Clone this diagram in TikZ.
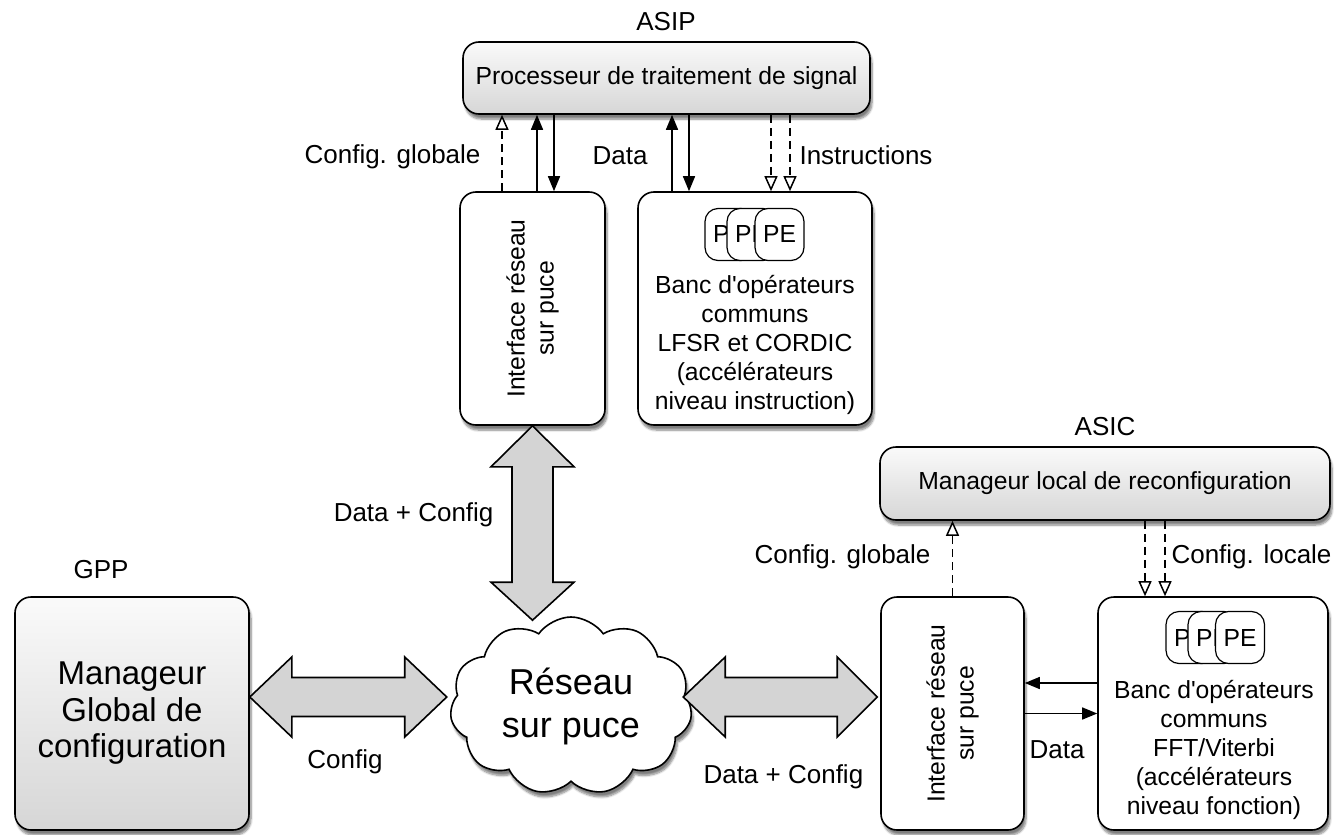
\documentclass[tikz,border=0pt]{standalone}
\usepackage{fontspec}
\setmainfont{Liberation Sans}[Ligatures=TeXOff]
\usetikzlibrary{shapes.symbols,arrows.meta,shadows.blur,calc}
\newcommand\hdblarrow[4]{% from, to, headL1, headL2
  \draw[darrow] (#1) -- ++(#3,-40) -- ++(0,20.5) -- ($(#2)+(-#4,-19.5)$) -- ++(0,-20.5) -- (#2)
    -- ++(-#4,40) -- ++(0,-20.5) -- ($(#1)+(#3,19.5)$) -- ++(0,20.5) -- cycle;}
\begin{document}
\begin{tikzpicture}[x=1pt,y=-1pt,
  every node/.style={font=\fontsize{24.7}{29}\selectfont},
  lbl/.style={font=\fontsize{26}{31}\selectfont},
  box/.style={draw, line width=1.6pt, rounded corners=16pt, fill=white, inner sep=0pt,
    blur shadow={shadow xshift=2pt, shadow yshift=-5pt, shadow blur steps=7, shadow opacity=50}},
  gbox/.style={box, top color=black!2, bottom color=black!16},
  pe/.style={draw, line width=1.2pt, rounded corners=13pt, fill=white, minimum width=49pt, minimum height=52pt, inner sep=0pt},
  sarrow/.style={line width=1.5pt, -{Triangle[length=15pt,width=12pt]}},
  oarrow/.style={line width=1.5pt, dash pattern=on 8pt off 5pt, -{Triangle[open,length=15pt,width=13pt,fill=white,line width=1.5pt]}},
  darrow/.style={draw, line width=1.6pt, fill=black!17, line join=miter},
]
\useasboundingbox (0,0) rectangle (1336,835);

% ---- ASIP ----
\node[lbl] (asip) at (666,22) {ASIP};
\node[gbox, minimum width=407pt, minimum height=72pt] (proc) at (666.5,78) {Processeur de traitement de signal};
\node[box, minimum width=145pt, minimum height=233pt] (ifaceT) at (532.5,308.5) {};
\node[rotate=90, align=center] (ifaceTtxt) at (ifaceT.center) {Interface réseau\\sur puce};
\node[box, minimum width=234pt, minimum height=233pt] (bancT) at (755,308.5) {};
\node[pe] (peT1) at (729.5,234.5) {PE};
\node[pe] (peT2) at (751.5,234.5) {PE};
\node[pe] (peT3) at (779.5,234.5) {PE};
\node[align=center] (bancTtxt) at (755,345) {Banc d'opérateurs\\communs\\LFSR et CORDIC\\(accélérateurs\\niveau instruction)};

\coordinate (t1) at ($(ifaceT.north)+(-30.5,0)$);
\coordinate (t2) at ($(ifaceT.north)+(4.5,0)$);
\coordinate (t3) at ($(ifaceT.north)+(21.5,0)$);
\coordinate (t4) at ($(bancT.north)+(-83,0)$);
\coordinate (t5) at ($(bancT.north)+(-66,0)$);
\coordinate (t6) at ($(bancT.north)+(16,0)$);
\coordinate (t7) at ($(bancT.north)+(35,0)$);
\draw[oarrow] (t1) -- (t1 |- proc.south);
\draw[sarrow] (t2) -- (t2 |- proc.south);
\draw[sarrow] (t3 |- proc.south) -- (t3);
\draw[sarrow] (t4) -- (t4 |- proc.south);
\draw[sarrow] (t5 |- proc.south) -- (t5);
\draw[oarrow] (t6 |- proc.south) -- (t6);
\draw[oarrow] (t7 |- proc.south) -- (t7);
\node[lbl, anchor=east] (lcg1) at (484,157) {Config. globale};
\node[lbl] (ldata1) at (620,156) {Data};
\node[lbl, anchor=west] (linstr) at (796,155) {Instructions};

% ---- Cloud ----
\node[cloud, draw, line width=1.6pt, fill=white, cloud puffs=11, cloud puff arc=110, aspect=1.5,
  minimum width=242pt, minimum height=178pt, inner sep=0pt, align=center,
  font=\fontsize{36}{43}\selectfont,
  blur shadow={shadow xshift=2pt, shadow yshift=-5pt, shadow blur steps=7, shadow opacity=50}] (cloud) at (571,706) {Réseau\\sur puce};

% vertical double arrow
\coordinate (v1) at (ifaceT.south);
\coordinate (v2) at ($(ifaceT.south |- cloud.north)+(0,4)$);
\draw[darrow] (v1) -- ++(41.5,41) -- ++(-21,0) -- ($(v2)+(20.5,-38)$) -- ++(21,0) -- (v2)
  -- ++(-41.5,-38) -- ++(21,0) -- ($(v1)+(-20.5,41)$) -- ++(-21,0) -- cycle;
\node[lbl, anchor=east] (ldc1) at (497,515) {Data + Config};

% ---- GPP ----
\node[lbl] (gpp) at (101,570) {GPP};
\node[gbox, minimum width=234pt, minimum height=233pt, align=center, font=\fontsize{33}{36.5}\selectfont] (mgrG) at (132,713.5) {Manageur\\Global de\\configuration};
\coordinate (h1) at ($(mgrG.east)+(0,-16.5)$);
\coordinate (h2) at ($(h1 -| cloud.west)+(-4,0)$);
\hdblarrow{h1}{h2}{42}{42}
\node[lbl] (lcfg) at (345,762) {Config};

% ---- ASIC ----
\node[lbl] (asic) at (1105,427) {ASIC};
\node[gbox, minimum width=450pt, minimum height=73pt] (mgrL) at (1105,483.5) {Manageur local de reconfiguration};
\node[box, minimum width=143pt, minimum height=233pt] (ifaceB) at (952.5,713.5) {};
\node[rotate=90, align=center] (ifaceBtxt) at (ifaceB.center) {Interface réseau\\sur puce};
\node[box, minimum width=230pt, minimum height=233pt] (bancB) at (1213,713.5) {};
\node[pe] (peB1) at (1190.5,637.5) {PE};
\node[pe] (peB2) at (1212.5,637.5) {PE};
\node[pe] (peB3) at (1240,637.5) {PE};
\node[align=center] (bancBtxt) at (1214,750) {Banc d'opérateurs\\communs\\FFT/Viterbi\\(accélérateurs\\niveau fonction)};

\coordinate (r1) at ($(h1 -| cloud.east)+(-8,0)$);
\coordinate (r2) at ($(h1 -| ifaceB.west)+(-3,0)$);
\hdblarrow{r1}{r2}{42}{40}
\node[lbl, anchor=west] (ldc2) at (700,777) {Data + Config};

\coordinate (d1) at ($(bancB.west)+(0,-30.5)$);
\coordinate (d2) at (ifaceB.east);
\draw[sarrow] (d1) -- (d1 -| ifaceB.east);
\draw[sarrow] (d2) -- (d2 -| bancB.west);
\node[lbl] (ldata2) at (1057,750) {Data};

\draw[oarrow] (ifaceB.north) -- (ifaceB.north |- mgrL.south);
\coordinate (c1) at ($(mgrL.south)+(40,0)$);
\coordinate (c2) at ($(mgrL.south)+(60,0)$);
\draw[oarrow] (c1) -- (c1 |- bancB.north);
\draw[oarrow] (c2) -- (c2 |- bancB.north);
\node[lbl, anchor=east] (lcg2) at (934,557) {Config. globale};
\node[lbl, anchor=west] (lcl) at (1168,557) {Config. locale};
\end{tikzpicture}
\end{document}
